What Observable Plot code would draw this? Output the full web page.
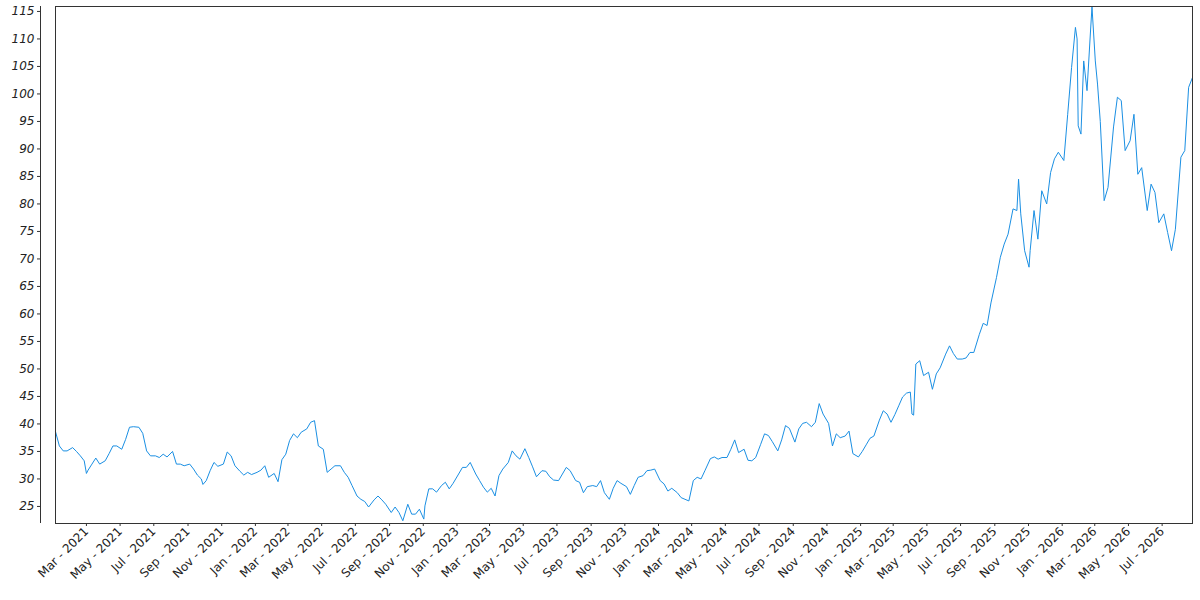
<!DOCTYPE html>
<html><head><meta charset="utf-8">
<script src="https://cdn.jsdelivr.net/npm/d3@7"></script>
<script src="https://cdn.jsdelivr.net/npm/@observablehq/plot@0.6"></script>
<style>
body{margin:0;background:#fff;}
#chart svg{display:block;}
</style></head><body><div id="chart"></div>
<script>
const dates2021 = ["2021-01-04","2021-01-11","2021-01-18","2021-01-25","2021-02-04","2021-02-11","2021-02-18","2021-02-25","2021-03-01","2021-03-04","2021-03-11","2021-03-18","2021-03-25","2021-04-04","2021-04-11","2021-04-18","2021-04-25","2021-05-04","2021-05-11","2021-05-18","2021-05-25","2021-06-04","2021-06-11","2021-06-18","2021-06-25","2021-07-04","2021-07-11","2021-07-18","2021-07-25","2021-08-04","2021-08-11","2021-08-18","2021-08-25","2021-09-04","2021-09-11","2021-09-18","2021-09-25","2021-09-28","2021-10-04","2021-10-11","2021-10-18","2021-10-25","2021-11-04","2021-11-11","2021-11-18","2021-11-25","2021-12-04","2021-12-11","2021-12-18","2021-12-25"];
const values2021 = [38.6,36.0,35.1,35.1,35.7,35.0,34.2,33.3,31.0,31.6,32.7,33.8,32.7,33.3,34.6,36.0,36.0,35.4,37.2,39.4,39.5,39.4,38.3,35.1,34.2,34.2,33.9,34.5,34.0,35.0,32.7,32.7,32.4,32.7,31.8,30.7,30.0,29.0,29.7,31.5,33.0,32.3,32.7,34.9,34.2,32.4,31.4,30.7,31.2,30.8];

const dates2022 = ["2022-01-04","2022-01-11","2022-01-18","2022-01-25","2022-02-04","2022-02-11","2022-02-18","2022-02-25","2022-03-04","2022-03-11","2022-03-18","2022-03-25","2022-04-04","2022-04-11","2022-04-18","2022-04-25","2022-05-04","2022-05-11","2022-05-18","2022-05-25","2022-06-04","2022-06-11","2022-06-18","2022-06-25","2022-07-04","2022-07-11","2022-07-18","2022-07-25","2022-08-04","2022-08-11","2022-08-18","2022-08-25","2022-09-04","2022-09-11","2022-09-18","2022-09-25","2022-10-04","2022-10-11","2022-10-18","2022-10-25","2022-11-02","2022-11-04","2022-11-11","2022-11-18","2022-11-25","2022-12-04","2022-12-11","2022-12-18","2022-12-25"];
const values2022 = [31.2,31.6,32.4,30.3,31.0,29.5,33.5,34.5,37.0,38.2,37.5,38.5,39.1,40.3,40.6,36.0,35.4,31.2,31.8,32.4,32.4,31.2,30.3,28.8,26.9,26.3,25.9,24.9,26.2,26.9,26.2,25.4,23.9,24.9,23.9,22.4,25.4,23.6,23.6,24.5,22.7,25.1,28.2,28.2,27.6,28.8,29.4,28.2,29.2];

const dates2023 = ["2023-01-04","2023-01-11","2023-01-18","2023-01-25","2023-02-04","2023-02-11","2023-02-18","2023-02-25","2023-03-04","2023-03-11","2023-03-18","2023-03-25","2023-04-04","2023-04-11","2023-04-18","2023-04-25","2023-05-04","2023-05-11","2023-05-18","2023-05-25","2023-06-04","2023-06-11","2023-06-18","2023-06-25","2023-07-04","2023-07-11","2023-07-18","2023-07-25","2023-08-04","2023-08-11","2023-08-18","2023-08-25","2023-09-04","2023-09-11","2023-09-18","2023-09-25","2023-10-04","2023-10-11","2023-10-18","2023-10-25","2023-11-04","2023-11-11","2023-11-18","2023-11-25","2023-12-04","2023-12-11","2023-12-18","2023-12-25"];
const values2023 = [30.9,32.1,32.1,33.0,30.9,29.7,28.5,27.6,28.3,26.9,30.6,31.8,33.0,35.1,34.2,33.6,35.5,33.9,32.2,30.4,31.5,31.4,30.4,29.8,29.7,30.9,32.1,31.5,29.7,29.4,27.5,28.6,28.8,28.6,29.7,27.5,26.3,28.3,29.7,29.2,28.6,27.2,28.8,30.3,30.6,31.5,31.6,31.8];

const dates2024 = ["2024-01-04","2024-01-11","2024-01-18","2024-01-25","2024-02-04","2024-02-11","2024-02-18","2024-02-25","2024-03-04","2024-03-11","2024-03-18","2024-03-25","2024-04-04","2024-04-11","2024-04-18","2024-04-25","2024-05-04","2024-05-11","2024-05-18","2024-05-25","2024-06-04","2024-06-11","2024-06-18","2024-06-25","2024-07-04","2024-07-11","2024-07-18","2024-07-25","2024-08-04","2024-08-11","2024-08-18","2024-08-25","2024-09-04","2024-09-11","2024-09-18","2024-09-25","2024-10-04","2024-10-11","2024-10-18","2024-10-25","2024-11-04","2024-11-11","2024-11-18","2024-11-25","2024-12-04","2024-12-11","2024-12-18","2024-12-28"];
const values2024 = [29.7,29.1,27.8,28.3,27.5,26.6,26.3,26.0,29.7,30.3,30.0,31.5,33.7,34.0,33.6,33.9,33.9,35.4,37.1,34.8,35.4,33.4,33.3,33.9,36.3,38.2,37.9,36.8,35.1,37.1,39.7,39.2,36.7,39.1,40.1,40.3,39.5,40.3,43.7,41.8,40.1,36.0,38.2,37.5,37.8,38.7,34.6,34.0];

const dates2025 = ["2025-01-04","2025-01-11","2025-01-18","2025-01-25","2025-02-04","2025-02-11","2025-02-18","2025-02-25","2025-03-04","2025-03-11","2025-03-18","2025-03-25","2025-04-01","2025-04-04","2025-04-07","2025-04-11","2025-04-18","2025-04-25","2025-05-04","2025-05-11","2025-05-18","2025-05-25","2025-06-04","2025-06-11","2025-06-18","2025-06-25","2025-07-04","2025-07-11","2025-07-18","2025-07-25","2025-08-04","2025-08-11","2025-08-18","2025-08-25","2025-09-04","2025-09-11","2025-09-18","2025-09-25","2025-10-04","2025-10-11","2025-10-14","2025-10-18","2025-10-25","2025-11-02","2025-11-04","2025-11-11","2025-11-18","2025-11-25","2025-12-04","2025-12-11","2025-12-18","2025-12-25"];
const values2025 = [35.0,36.2,37.4,37.8,40.7,42.4,41.8,40.3,41.7,43.3,44.9,45.6,45.8,41.8,41.6,50.9,51.5,48.8,49.4,46.3,49.1,50.2,52.7,54.2,52.8,51.8,51.8,52.0,53.0,53.0,56.3,58.3,57.9,62.0,66.6,70.3,72.7,74.5,79.1,78.8,84.5,78.2,71.5,68.5,71.5,78.8,73.6,82.4,80.0,85.7,88.2,89.4];

const dates2026 = ["2026-01-04","2026-01-11","2026-01-18","2026-01-25","2026-01-28","2026-01-30","2026-02-04","2026-02-09","2026-02-15","2026-02-21","2026-02-24","2026-03-02","2026-03-06","2026-03-11","2026-03-18","2026-03-25","2026-04-04","2026-04-11","2026-04-18","2026-04-25","2026-05-04","2026-05-11","2026-05-18","2026-05-25","2026-06-04","2026-06-11","2026-06-18","2026-06-25","2026-07-04","2026-07-11","2026-07-18","2026-07-25","2026-08-04","2026-08-11","2026-08-18","2026-08-25"];
const values2026 = [87.9,96.3,104.8,112.1,110.0,94.2,92.7,106.0,100.6,110.9,115.8,106.0,101.8,95.0,80.6,83.0,94.0,99.4,98.8,89.7,91.5,96.3,85.4,86.6,78.8,83.6,82.1,76.6,78.2,74.8,71.5,75.4,88.5,89.7,101.2,103.0];

const xTickDates = ["2021-03-01","2021-05-01","2021-07-01","2021-09-01","2021-11-01","2022-01-01","2022-03-01","2022-05-01","2022-07-01","2022-09-01","2022-11-01","2023-01-01","2023-03-01","2023-05-01","2023-07-01","2023-09-01","2023-11-01","2024-01-01","2024-03-01","2024-05-01","2024-07-01","2024-09-01","2024-11-01","2025-01-01","2025-03-01","2025-05-01","2025-07-01","2025-09-01","2025-11-01","2026-01-01","2026-03-01","2026-05-01","2026-07-01"];
const yTicks = [25,30,35,40,45,50,55,60,65,70,75,80,85,90,95,100,105,110,115];

const parse = s => new Date(s + "T00:00:00Z");
const rows = [];
[[dates2021, values2021],[dates2022, values2022],[dates2023, values2023],[dates2024, values2024],[dates2025, values2025],[dates2026, values2026]]
  .forEach(([ds, vs]) => ds.forEach((d, i) => rows.push({date: parse(d), value: vs[i]})));

const chart = Plot.plot({
  width: 1200,
  height: 600,
  marginLeft: 55,
  marginRight: 8,
  marginTop: 6,
  marginBottom: 77,
  style: {fontFamily: "DejaVu Sans", fontSize: "12px", color: "#222", background: "#fff"},
  x: {type: "utc", domain: [rows[0].date, rows[rows.length - 1].date]},
  y: {domain: [21.9, 115.9]},
  marks: [
    Plot.lineY(rows, {x: "date", y: "value", stroke: "#1a8fe3", strokeWidth: 1}),
    Plot.frame({stroke: "#333"}),
    Plot.ruleX([rows[0].date], {dx: -15, stroke: "#333"}),
    Plot.axisY({ticks: yTicks, dx: -15, tickSize: 3, tickPadding: 3, fontStyle: "italic", fontSize: 12, label: null, stroke: "#333"}),
    Plot.axisX({ticks: xTickDates.map(parse), tickFormat: d3.utcFormat("%b - %Y"), tickRotate: -45, tickSize: 3, tickPadding: 3, fontSize: 12, label: null, stroke: "#333"})
  ]
});
document.getElementById("chart").appendChild(chart);
</script>
</body></html>
